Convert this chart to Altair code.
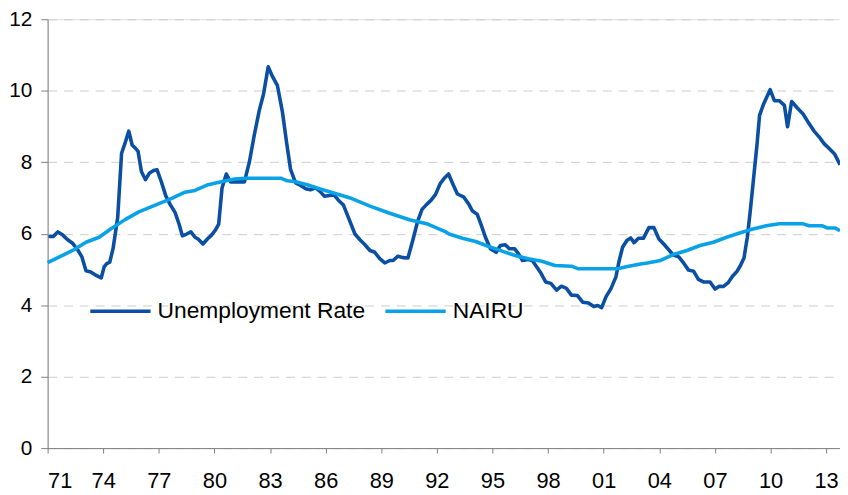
import altair as alt
import pandas as pd

# Unemployment rate
u_year = [1971.05, 1971.30, 1971.55, 1971.82, 1972.08, 1972.35, 1972.62, 1972.85, 1973.07, 1973.33,
          1973.60, 1973.89, 1974.05, 1974.19, 1974.35, 1974.53, 1974.78, 1974.99, 1975.20, 1975.38,
          1975.56, 1975.74, 1975.88, 1976.06, 1976.28, 1976.50, 1976.72, 1976.90, 1977.13, 1977.38,
          1977.61, 1977.88, 1978.09, 1978.27, 1978.50, 1978.73, 1978.95, 1979.12, 1979.38, 1979.62,
          1979.84, 1980.05, 1980.23, 1980.41, 1980.64, 1980.87, 1981.17, 1981.62, 1981.89, 1982.15,
          1982.42, 1982.65, 1982.90, 1983.13, 1983.40, 1983.67, 1983.90, 1984.11, 1984.38, 1984.65,
          1984.91, 1985.18, 1985.45, 1985.68, 1985.93, 1986.22, 1986.46, 1986.70, 1986.96, 1987.23,
          1987.58, 1987.85, 1988.12, 1988.39, 1988.65, 1988.92, 1989.19, 1989.46, 1989.64, 1989.90,
          1990.17, 1990.44, 1990.71, 1990.97, 1991.20, 1991.45, 1991.68, 1991.93, 1992.18, 1992.40,
          1992.63, 1992.88, 1993.11, 1993.46, 1993.73, 1993.91, 1994.18, 1994.41, 1994.62, 1994.89,
          1995.20, 1995.43, 1995.69, 1995.91, 1996.19, 1996.40, 1996.62, 1996.91, 1997.15, 1997.39,
          1997.62, 1997.87, 1998.15, 1998.46, 1998.72, 1998.99, 1999.26, 1999.58, 1999.88, 2000.18,
          2000.47, 2000.68, 2000.89, 2001.13, 2001.40, 2001.66, 2001.84, 2002.02, 2002.25, 2002.46,
          2002.64, 2002.88, 2003.14, 2003.44, 2003.71, 2003.98, 2004.24, 2004.51, 2004.74, 2005.05,
          2005.31, 2005.58, 2005.85, 2006.11, 2006.38, 2006.74, 2007.01, 2007.24, 2007.45, 2007.72,
          2007.95, 2008.20, 2008.38, 2008.57, 2008.75, 2008.91, 2009.09, 2009.27, 2009.41, 2009.63,
          2009.98, 2010.21, 2010.48, 2010.75, 2010.92, 2011.14, 2011.46, 2011.76, 2012.08, 2012.35,
          2012.62, 2012.89, 2013.15, 2013.47, 2013.75]
u_rate = [5.92, 5.92, 6.05, 5.96, 5.83, 5.73, 5.55, 5.35, 4.96, 4.93,
          4.84, 4.76, 5.07, 5.16, 5.20, 5.58, 6.45, 8.25, 8.57, 8.87,
          8.48, 8.39, 8.30, 7.74, 7.51, 7.70, 7.77, 7.79, 7.46, 7.05,
          6.82, 6.59, 6.27, 5.94, 5.99, 6.05, 5.90, 5.85, 5.71, 5.85,
          5.96, 6.10, 6.27, 7.28, 7.67, 7.45, 7.45, 7.45, 8.02, 8.76,
          9.45, 9.91, 10.67, 10.40, 10.14, 9.40, 8.52, 7.79, 7.42, 7.35,
          7.26, 7.23, 7.28, 7.19, 7.05, 7.07, 7.08, 6.93, 6.80, 6.45,
          5.99, 5.83, 5.69, 5.53, 5.48, 5.30, 5.18, 5.25, 5.25, 5.37,
          5.33, 5.32, 5.83, 6.36, 6.68, 6.82, 6.93, 7.10, 7.40, 7.55,
          7.67, 7.37, 7.11, 7.02, 6.82, 6.64, 6.54, 6.22, 5.90, 5.58,
          5.48, 5.67, 5.69, 5.58, 5.58, 5.44, 5.25, 5.28, 5.25, 5.07,
          4.89, 4.65, 4.61, 4.42, 4.53, 4.47, 4.28, 4.27, 4.08, 4.06,
          3.96, 3.99, 3.93, 4.24, 4.47, 4.79, 5.25, 5.62, 5.81, 5.88,
          5.75, 5.87, 5.87, 6.17, 6.17, 5.85, 5.71, 5.55, 5.41, 5.35,
          5.18, 4.98, 4.95, 4.72, 4.65, 4.65, 4.45, 4.53, 4.52, 4.63,
          4.81, 4.95, 5.11, 5.32, 5.90, 6.64, 7.56, 8.48, 9.31, 9.63,
          10.03, 9.72, 9.72, 9.59, 8.99, 9.70, 9.51, 9.35, 9.08, 8.87,
          8.71, 8.52, 8.39, 8.22, 7.93]

# NAIRU
n_year = [1971.00, 1971.64, 1972.35, 1973.07, 1973.78, 1974.40, 1975.20, 1975.92, 1976.81, 1977.70,
          1978.41, 1978.95, 1979.66, 1980.37, 1981.09, 1981.70, 1983.61, 1983.93, 1984.38, 1985.00,
          1985.71, 1986.43, 1987.32, 1988.39, 1989.46, 1990.52, 1991.51, 1991.95, 1992.45, 1992.66,
          1993.38, 1994.09, 1994.80, 1995.52, 1996.23, 1996.94, 1997.66, 1998.37, 1999.26, 1999.61,
          2001.75, 2002.28, 2002.99, 2003.35, 2004.07, 2004.78, 2005.49, 2006.20, 2006.92, 2007.63,
          2008.34, 2009.05, 2009.77, 2010.48, 2011.73, 2012.08, 2012.80, 2013.06, 2013.50, 2013.75]
n_rate = [5.19, 5.35, 5.53, 5.76, 5.90, 6.13, 6.40, 6.61, 6.80, 6.99,
          7.16, 7.21, 7.37, 7.45, 7.53, 7.55, 7.55, 7.48, 7.45, 7.37,
          7.25, 7.14, 7.00, 6.77, 6.57, 6.39, 6.27, 6.17, 6.06, 5.99,
          5.87, 5.78, 5.64, 5.51, 5.39, 5.30, 5.23, 5.11, 5.09, 5.02,
          5.02, 5.08, 5.15, 5.18, 5.25, 5.42, 5.53, 5.67, 5.76, 5.90,
          6.02, 6.13, 6.22, 6.28, 6.28, 6.22, 6.22, 6.16, 6.16, 6.08]

series_names = ["Unemployment Rate", "NAIRU"]
series_colors = ["#0A4FA3", "#0AA2E6"]
x_ticks = list(range(1971, 2014, 3))
y_ticks = [0, 2, 4, 6, 8, 10, 12]

df_u = pd.DataFrame({"year": u_year, "rate": u_rate, "series": series_names[0]})
df_n = pd.DataFrame({"year": n_year, "rate": n_rate, "series": series_names[1]})

FONT = "Liberation Sans"

x_enc = alt.X("year:Q",
              scale=alt.Scale(domain=[1971, 2013.75], nice=False, zero=False),
              axis=alt.Axis(values=x_ticks, labelExpr="slice(format(datum.value, 'd'), 2)",
                            title=None, grid=False, domain=True, domainColor="#7f7f7f",
                            tickColor="#7f7f7f", tickSize=5, labelFontSize=22, labelFont=FONT,
                            labelColor="#000000", labelPadding=18))
y_enc = alt.Y("rate:Q",
              scale=alt.Scale(domain=[0, 12], nice=False),
              axis=alt.Axis(values=y_ticks, title=None, grid=True, gridColor="#cccccc",
                            gridDash=[9, 7], gridWidth=1, domain=True, domainColor="#7f7f7f",
                            tickColor="#7f7f7f", tickSize=7, labelFontSize=21, labelFont=FONT,
                            labelColor="#000000", labelPadding=9))
color_enc = alt.Color("series:N",
                      scale=alt.Scale(domain=series_names, range=series_colors),
                      legend=alt.Legend(title=None, orient="none", legendX=41, legendY=262,
                                        direction="horizontal", symbolType="stroke",
                                        symbolSize=3700, symbolStrokeWidth=3.5,
                                        labelFontSize=23, labelFont=FONT, labelColor="#000000",
                                        labelLimit=400, labelOffset=5, columnPadding=13,
                                        padding=0))

line_u = alt.Chart(df_u).mark_line(strokeWidth=3.6, strokeJoin="round").encode(
    x=x_enc, y=y_enc, color=color_enc)
line_n = alt.Chart(df_n).mark_line(strokeWidth=3.6, strokeJoin="round").encode(
    x=x_enc, y=y_enc, color=color_enc)

chart = alt.layer(line_u, line_n).properties(
    width=800, height=433,
    autosize=alt.AutoSizeParams(type="none"),
    padding={"left": 40, "top": 9, "right": 0, "bottom": 45},
).configure_view(stroke=None).configure(background="#ffffff")

chart.save("out.html", embed_options={"renderer": "svg", "actions": False})
